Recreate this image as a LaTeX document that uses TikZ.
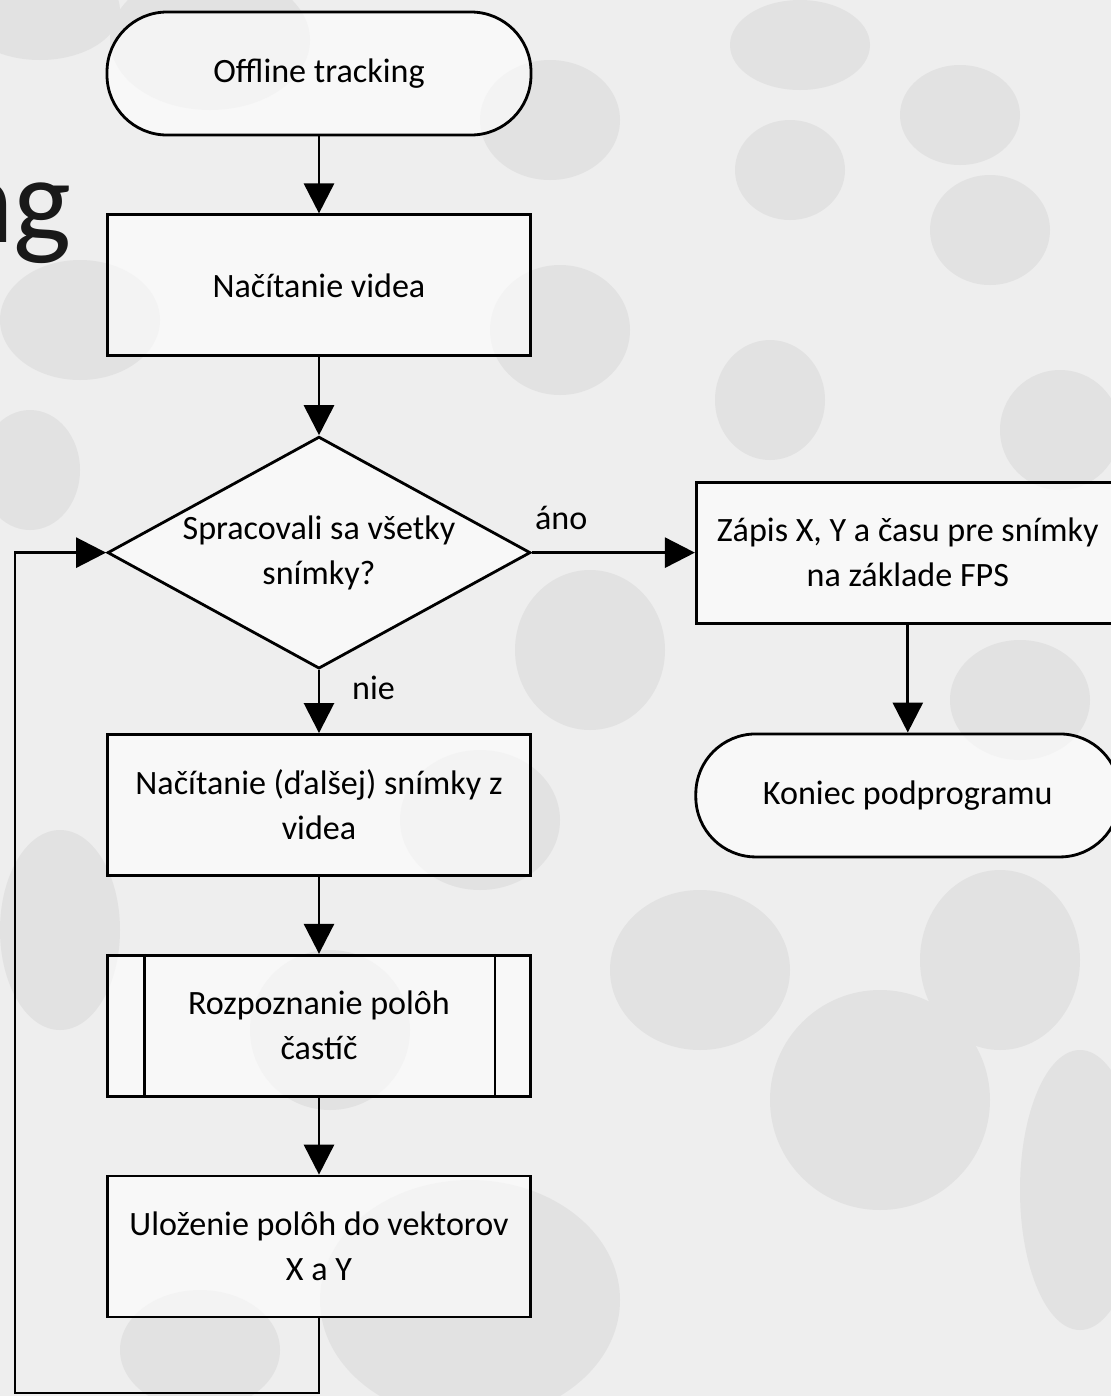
\documentclass[tikz,border=0pt]{standalone}
\usepackage{fontspec}
\setmainfont{Carlito}
\usetikzlibrary{positioning,shapes.geometric,arrows.meta}

\definecolor{slidebg}{gray}{0.935}
\definecolor{blob}{gray}{0.885}
\definecolor{titlegray}{gray}{0.1}

\begin{document}
\begin{tikzpicture}[>={Triangle[length=0.3cm,width=0.3cm]},line width=0.8pt,
        node distance=0.77cm,
        every node/.style={font=\fontsize{9.7}{12.8}\selectfont},
        terminal/.style={rectangle,draw,rounded corners=0.6cm,fill=white,fill opacity=0.6,
          text opacity=1,minimum width=4.24cm,minimum height=1.23cm},
        process/.style={rectangle,draw,fill=white,fill opacity=0.6,text opacity=1,
          align=center,minimum width=4.23cm,minimum height=1.41cm},
        decision/.style={diamond,draw,fill=white,fill opacity=0.6,text opacity=1,
          align=center,aspect=1.82,inner sep=0pt,minimum width=4.23cm,minimum height=2.32cm},
        predef/.style={process}]
        % slide background
        \fill[slidebg] (0,0) rectangle (11.11,-13.96);
        \useasboundingbox (0,0) rectangle (11.11,-13.96);
        \foreach \x/\y/\rx/\ry in {2.1/-0.4/1.0/0.7, 0.4/-0.1/0.8/0.5, 5.5/-1.2/0.7/0.6,
          8.0/-0.45/0.7/0.45, 7.9/-1.7/0.55/0.5, 9.6/-1.15/0.6/0.5, 9.9/-2.3/0.6/0.55,
          5.6/-3.3/0.7/0.65, 7.7/-4.0/0.55/0.6, 0.8/-3.2/0.8/0.6, 0.3/-4.7/0.5/0.6,
          5.9/-6.5/0.75/0.8, 4.8/-8.2/0.8/0.7, 10.6/-4.3/0.6/0.6, 10.2/-7.0/0.7/0.6,
          7.0/-9.7/0.9/0.8, 10.0/-9.6/0.8/0.9, 8.8/-11.0/1.1/1.1, 0.6/-9.3/0.6/1.0,
          3.3/-10.3/0.8/0.8, 4.7/-13.0/1.5/1.2, 10.8/-11.9/0.6/1.4, 2.0/-13.5/0.8/0.6}
          \fill[blob] (\x,\y) ellipse ({\rx} and {\ry});
        % cut title of the slide
        \node[font=\fontsize{35}{40}\selectfont,text=titlegray,anchor=base east,inner sep=0pt]
          (title) at (0.73,-2.42) {ng};
        % flowchart
        \node[terminal] (start) at (3.19,-0.735) {Offline tracking};
        \node[process] (load) [below=of start] {Načítanie videa};
        \node[decision] (check) [below=0.78cm of load] {Spracovali sa všetky\\snímky?};
        \node[process] (frame) [below=0.63cm of check] {Načítanie (ďalšej) snímky z\\videa};
        \node[predef] (detect) [below=of frame] {Rozpoznanie polôh\\častíč};
        \node[process] (store) [below=of detect] {Uloženie polôh do vektorov\\X a Y};
        \node[process] (write) [right=1.63cm of check] {Zápis X, Y a času pre snímky\\na základe FPS};
        \node[terminal] (stop) [below=1.08cm of write] {Koniec podprogramu};
        \draw ([xshift=0.38cm]detect.north west) -- ([xshift=0.38cm]detect.south west);
        \draw ([xshift=-0.37cm]detect.north east) -- ([xshift=-0.37cm]detect.south east);
        \coordinate (loop) at (0.15,-13.93);
        \path[->]
        (start) edge (load)
        (load) edge (check)
        (check) edge node[pos=0.28,right=0.2cm] {nie} (frame)
        (check) edge node[pos=0.18,above=0.1cm] {áno} (write)
        (frame) edge (detect)
        (detect) edge (store)
        (write) edge (stop)
        ;
        \draw[->] (store.south) |- (loop) |- (check.west);
\end{tikzpicture}
\end{document}
